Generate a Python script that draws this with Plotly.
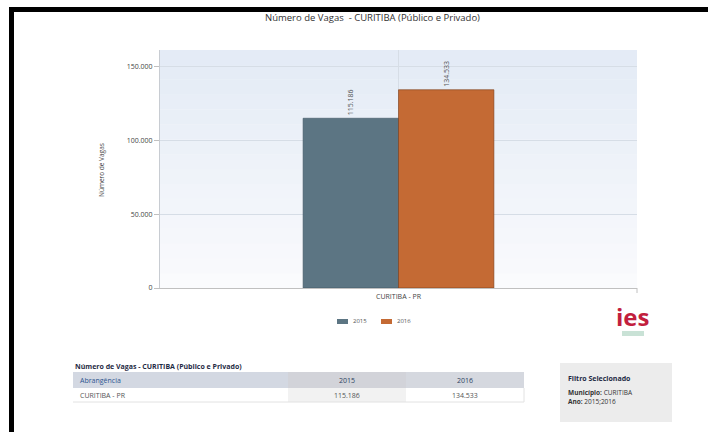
import plotly.graph_objects as go

# ---- data ----
categories = ["CURITIBA - PR"]
years = ["2015", "2016"]
vagas_2015 = [115186]
vagas_2016 = [134533]
y_ticks = [0, 50000, 100000, 150000]
title_text = "Número de Vagas  - CURITIBA (Público e Privado)"
table_title = "Número de Vagas - CURITIBA (Público e Privado)"
table_header = ["Abrangência", "2015", "2016"]
filter_lines = ["Município: CURITIBA", "Ano: 2015;2016"]

COL_2015 = "#5c7583"
COL_2016 = "#c46a34"

W, H = 708, 432
L, R, T, B = 160, 637, 50, 288  # plot area in pixels


def px(x):
    return (x - L) / (R - L)


def py(y):
    return (B - y) / (B - T)


def fmt(v):
    return f"{v:,}".replace(",", ".")


FONT = "Open Sans, Liberation Sans, Arial, sans-serif"

fig = go.Figure()
fig.add_trace(go.Bar(
    x=categories, y=vagas_2015, name=years[0],
    marker=dict(color=COL_2015, line=dict(color="#3e5563", width=0.6)),
    text=[fmt(v) for v in vagas_2015], textposition="outside", textangle=-90,
    textfont=dict(size=7, color="#555555", family=FONT), cliponaxis=False,
))
fig.add_trace(go.Bar(
    x=categories, y=vagas_2016, name=years[1],
    marker=dict(color=COL_2016, line=dict(color="#7a3a16", width=0.6)),
    text=[fmt(v) for v in vagas_2016], textposition="outside", textangle=-90,
    textfont=dict(size=7, color="#555555", family=FONT), cliponaxis=False,
))

shapes = []
# plot background vertical gradient (light blue at top to near white at bottom)
n = 16
c0 = (228, 235, 246)
c1 = (250, 251, 253)
for i in range(n):
    f = i / (n - 1)
    col = tuple(int(c0[k] + (c1[k] - c0[k]) * f) for k in range(3))
    shapes.append(dict(type="rect", xref="paper", yref="paper", layer="below",
                       x0=0, x1=1, y0=1 - (i + 1) / n, y1=1 - i / n,
                       fillcolor="rgb(%d,%d,%d)" % col, line=dict(width=0)))
# right end tick of x axis
shapes.append(dict(type="line", xref="paper", yref="paper", x0=1, x1=1,
                   y0=0, y1=py(B + 5), line=dict(color="#c0c0c0", width=1)))
# black frame strips
shapes.append(dict(type="rect", xref="paper", yref="paper",
                   x0=px(9), x1=px(14), y0=py(432), y1=py(7),
                   fillcolor="black", line=dict(width=0)))
shapes.append(dict(type="rect", xref="paper", yref="paper",
                   x0=px(9), x1=px(708), y0=py(12), y1=py(7),
                   fillcolor="black", line=dict(width=0)))
# legend swatches
shapes.append(dict(type="rect", xref="paper", yref="paper",
                   x0=px(337), x1=px(348), y0=py(324), y1=py(319),
                   fillcolor=COL_2015, line=dict(width=0)))
shapes.append(dict(type="rect", xref="paper", yref="paper",
                   x0=px(381), x1=px(392), y0=py(324), y1=py(319),
                   fillcolor=COL_2016, line=dict(width=0)))
# table header
shapes.append(dict(type="rect", xref="paper", yref="paper",
                   x0=px(73), x1=px(288), y0=py(388), y1=py(372),
                   fillcolor="#d3d8e2", line=dict(width=0)))
shapes.append(dict(type="rect", xref="paper", yref="paper",
                   x0=px(288), x1=px(406), y0=py(388), y1=py(372),
                   fillcolor="#d2d3d9", line=dict(width=0)))
shapes.append(dict(type="rect", xref="paper", yref="paper",
                   x0=px(406), x1=px(524), y0=py(388), y1=py(372),
                   fillcolor="#d5d8df", line=dict(width=0)))
# table data row
shapes.append(dict(type="rect", xref="paper", yref="paper",
                   x0=px(288), x1=px(406), y0=py(402), y1=py(388),
                   fillcolor="#f2f2f2", line=dict(width=0)))
shapes.append(dict(type="line", xref="paper", yref="paper",
                   x0=px(73), x1=px(524), y0=py(402), y1=py(402),
                   line=dict(color="#e2e2e2", width=1)))
shapes.append(dict(type="line", xref="paper", yref="paper",
                   x0=px(524), x1=px(524), y0=py(402), y1=py(388),
                   line=dict(color="#e2e2e2", width=1)))
# filter box
shapes.append(dict(type="rect", xref="paper", yref="paper",
                   x0=px(560), x1=px(672), y0=py(422), y1=py(363),
                   fillcolor="#ececec", line=dict(width=0)))
# logo underline
shapes.append(dict(type="rect", xref="paper", yref="paper",
                   x0=px(622), x1=px(644), y0=py(336), y1=py(331),
                   fillcolor="#c9e2d6", line=dict(width=0)))

ann = []


def text(x, y, s, size=7, color="#333333", xanchor="left", bold=False, angle=0):
    ann.append(dict(xref="paper", yref="paper", x=px(x), y=py(y),
                    text=("<b>%s</b>" % s) if bold else s, showarrow=False,
                    xanchor=xanchor, yanchor="middle", textangle=angle,
                    font=dict(size=size, color=color, family=FONT)))


text(372, 17, title_text, size=9.5, color="#333333", xanchor="center")
text(101, 170, "Número de Vagas", size=6.5, color="#444444", xanchor="center", angle=-90)
# legend labels
text(351, 321, years[0], size=6, color="#555555")
text(395, 321, years[1], size=6, color="#555555")
# logo
text(633, 316, "ies", size=24, color="#c21f3e", xanchor="center", bold=True)
# table
text(73, 366, table_title, size=7, color="#1f2b45", bold=True)
text(78, 380, table_header[0], size=7, color="#2d5590")
text(347, 380, table_header[1], size=7, color="#2d3f60", xanchor="center")
text(465, 380, table_header[2], size=7, color="#2d3f60", xanchor="center")
text(78, 395, categories[0], size=7, color="#555555")
text(347, 395, fmt(vagas_2015[0]), size=7, color="#555555", xanchor="center")
text(465, 395, fmt(vagas_2016[0]), size=7, color="#555555", xanchor="center")
# filter box
text(566, 378, "Filtro Selecionado", size=7, color="#1f2b45", bold=True)
text(566, 392, "<b>Município:</b> CURITIBA", size=6.5, color="#333333")
text(566, 401, "<b>Ano:</b> 2015;2016", size=6.5, color="#333333")

fig.update_layout(
    width=W, height=H,
    margin=dict(l=L, r=W - R, t=T, b=H - B),
    paper_bgcolor="white", plot_bgcolor="#f4f7fb",
    separators=",.",
    barmode="group", bargap=0.6, bargroupgap=0,
    font=dict(family=FONT, size=7, color="#444444"),
    showlegend=False,
    shapes=shapes, annotations=ann,
)
fig.update_xaxes(showline=True, linecolor="#c0c0c0", linewidth=1,
                 showgrid=True, gridcolor="#d6dde6", gridwidth=1,
                 ticks="", tickfont=dict(size=7, color="#444444"), ticklabelstandoff=2)
fig.update_yaxes(range=[0, 161500], tickvals=y_ticks,
                 ticktext=[fmt(v) for v in y_ticks],
                 showline=True, linecolor="#c8ccd2", linewidth=1,
                 showgrid=True, gridcolor="#d6dde6", gridwidth=1, zeroline=False,
                 ticks="outside", ticklen=5, tickcolor="#c0c0c0",
                 tickfont=dict(size=7, color="#444444"))

fig.write_html("out.html", config={"displayModeBar": False},
               post_script="document.body.style.margin='0px';document.body.style.overflow='hidden';")
